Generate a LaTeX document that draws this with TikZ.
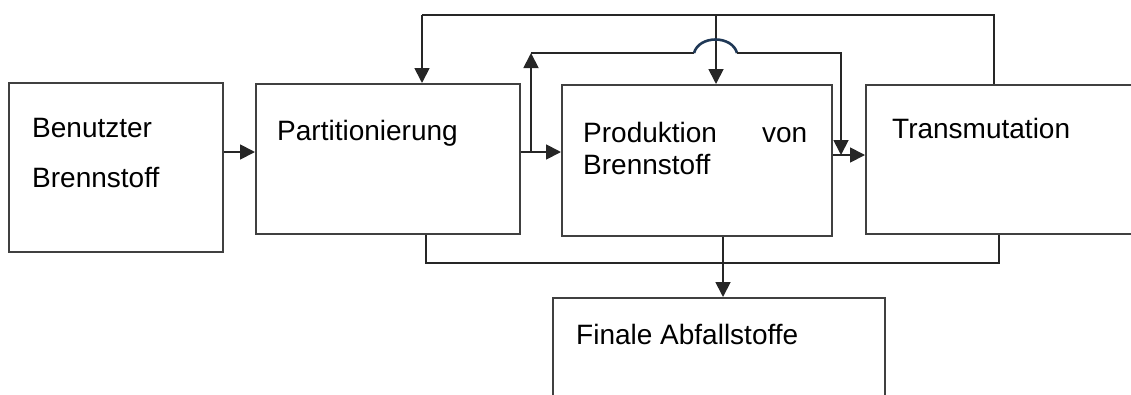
\documentclass[tikz,border=0pt]{standalone}
\usepackage{fontspec}
\setmainfont{Liberation Sans}
\usetikzlibrary{arrows.meta}
\definecolor{hopblue}{RGB}{31,56,86}
\begin{document}
\begin{tikzpicture}[x=1pt,y=-1pt,
  box/.style={draw=black!75, line width=1.8pt, rectangle, anchor=north west, inner sep=0pt},
  conn/.style={draw=black!85, line width=1.8pt},
  arr/.style={conn, -{Triangle[length=15pt,width=15pt]}},
  hop/.style={draw=hopblue, line width=2.6pt},
  lbl/.style={anchor=base west, inner sep=0pt, font=\fontsize{28}{32}\selectfont}]
\useasboundingbox (0,0) rectangle (1131,394);
\clip (0,0) rectangle (1131,394);
% boxes
\node[box, minimum width=214pt, minimum height=169pt] (a) at (8,82) {};
\node[box, minimum width=264pt, minimum height=150pt] (b) at (255,83) {};
\node[box, minimum width=270pt, minimum height=151pt] (c) at (561,84) {};
\node[box, minimum width=300pt, minimum height=149pt] (d) at (865,84) {};
\node[box, minimum width=332pt, minimum height=150pt] (e) at (552,297) {};
% texts
\node[lbl] (ta1) at (32,137) {Benutzter};
\node[lbl] (ta2) at (32,187) {Brennstoff};
\node[lbl] (tb) at (277,140) {Partitionierung};
\node[lbl, text width=224pt, align=left] (tc1) at (583,142) {Produktion\hfill von};
\node[lbl] (tc2) at (583,174) {Brennstoff};
\node[lbl] (td) at (892,138) {Transmutation};
\node[lbl] (te) at (576,344) {Finale Abfallstoffe};
% helper coordinates
\coordinate (r1) at (0,152);
\coordinate (r2) at (0,155);
\coordinate (tl) at (422,15);
\coordinate (tm) at (716,15);
\coordinate (tr) at (994,15);
\coordinate (u1) at (531,152);
\coordinate (u2) at (531,53);
\coordinate (h1) at (694,53);
\coordinate (h2) at (737,53);
\coordinate (u3) at (841,53);
\coordinate (bl) at (426,263);
\coordinate (bm) at (723,263);
\coordinate (br) at (999,263);
% connectors
\draw[arr] (a.east |- r1) -- (b.west |- r1);
\draw[arr] (b.east |- r1) -- (c.west |- r1);
\draw[arr] (c.east |- r2) -- (d.west |- r2);
\draw[conn] (d.north -| tr) -- (tr) -- (tl);
\draw[arr] (tl) -- (b.north -| tl);
\draw[arr] (tm) -- (c.north -| tm);
\draw[arr] (u1) -- (u2);
\draw[conn] (u2) -- (h1);
\draw[hop] (h1) .. controls (699,35) and (732,35) .. (h2);
\draw[arr] (h2) -- (u3) -- (u3 |- r2);
\draw[conn] (b.south -| bl) -- (bl) -- (br) -- (d.south -| br);
\draw[arr] (c.south -| bm) -- (e.north -| bm);
\end{tikzpicture}
\end{document}
